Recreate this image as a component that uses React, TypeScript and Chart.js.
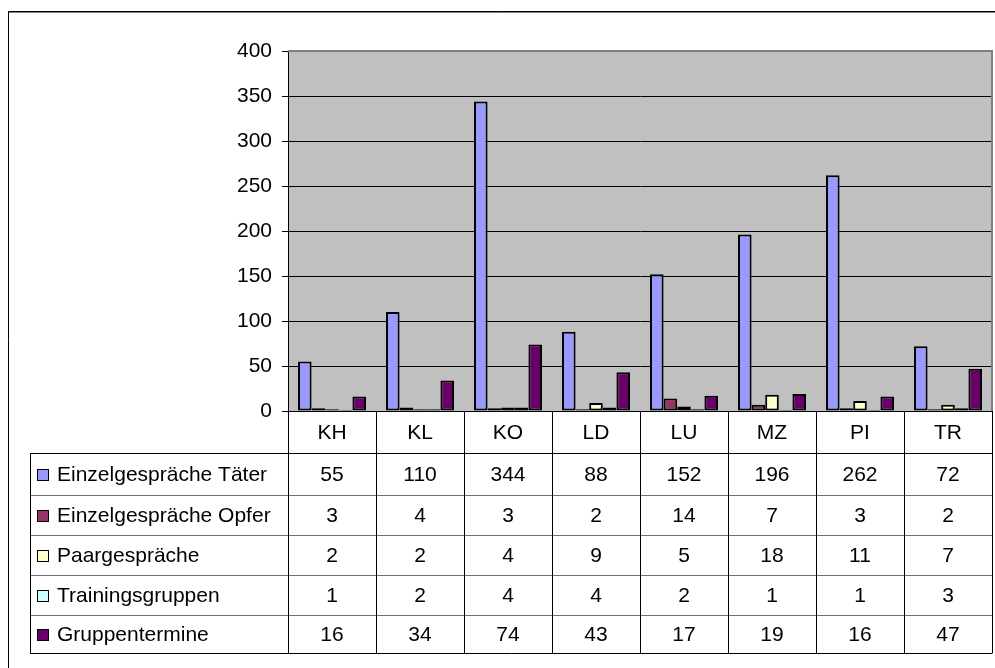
import React, { useEffect, useRef } from "react";
import { Chart, registerables } from "chart.js";

Chart.register(...registerables);

const categories = ["KH", "KL", "KO", "LD", "LU", "MZ", "PI", "TR"];
const seriesNames = [
  "Einzelgespräche Täter",
  "Einzelgespräche Opfer",
  "Paargespräche",
  "Trainingsgruppen",
  "Gruppentermine",
];
const taeter = [55, 110, 344, 88, 152, 196, 262, 72];
const opfer = [3, 4, 3, 2, 14, 7, 3, 2];
const paar = [2, 2, 4, 9, 5, 18, 11, 7];
const training = [1, 2, 4, 4, 2, 1, 1, 3];
const gruppen = [16, 34, 74, 43, 17, 19, 16, 47];
const seriesValues = [taeter, opfer, paar, training, gruppen];
const seriesColors = ["#9999FF", "#993366", "#FFFFCC", "#CCFFFF", "#660066"];
const yTicks = [0, 50, 100, 150, 200, 250, 300, 350, 400];

const FONT = '"Liberation Sans", Arial, sans-serif';
const FS = 21;

export default function App() {
  const ref = useRef<HTMLCanvasElement | null>(null);

  useEffect(() => {
    const canvas = ref.current;
    if (!canvas) return;

    const bgPlugin = {
      id: "plotBg",
      beforeDraw(chart: any) {
        const { ctx, chartArea } = chart;
        ctx.save();
        ctx.fillStyle = "#ffffff";
        ctx.fillRect(0, 0, chart.width, chart.height);
        ctx.fillStyle = "#C0C0C0";
        ctx.fillRect(chartArea.left, chartArea.top, chartArea.right - chartArea.left, chartArea.bottom - chartArea.top);
        ctx.restore();
      },
    };

    const tablePlugin = {
      id: "dataTable",
      afterDraw(chart: any) {
        const { ctx, chartArea } = chart;
        const xs = chart.scales.x;
        const left = chartArea.left;
        const right = chartArea.right;
        const top = chartArea.bottom;
        const rowLines = [453, 495, 535, 575, 615, 653];
        const tableLeft = 30;
        const bottom = rowLines[rowLines.length - 1];
        const n = categories.length;
        const colW = (right - left) / n;

        ctx.save();
        // plot frame top/right gray
        ctx.strokeStyle = "#808080";
        ctx.lineWidth = 2;
        ctx.beginPath();
        ctx.moveTo(left, chartArea.top);
        ctx.lineTo(right, chartArea.top);
        ctx.lineTo(right, chartArea.bottom);
        ctx.stroke();

        // horizontal inner lines
        ctx.lineWidth = 1;
        ctx.strokeStyle = "#707070";
        for (let i = 1; i < rowLines.length - 1; i++) {
          ctx.beginPath();
          ctx.moveTo(tableLeft, rowLines[i] + 0.5);
          ctx.lineTo(right, rowLines[i] + 0.5);
          ctx.stroke();
        }
        ctx.strokeStyle = "#000000";
        ctx.beginPath();
        ctx.moveTo(tableLeft, rowLines[0] + 0.5);
        ctx.lineTo(right, rowLines[0] + 0.5);
        ctx.moveTo(tableLeft, bottom + 0.5);
        ctx.lineTo(right + 0.5, bottom + 0.5);
        ctx.moveTo(tableLeft + 0.5, rowLines[0]);
        ctx.lineTo(tableLeft + 0.5, bottom);
        ctx.stroke();
        for (let i = 0; i <= n; i++) {
          const x = Math.round(left + colW * i) + 0.5;
          ctx.beginPath();
          ctx.moveTo(x, top);
          ctx.lineTo(x, bottom);
          ctx.stroke();
        }
        ctx.lineWidth = 1;
        ctx.beginPath();
        ctx.moveTo(left, top + 0.5);
        ctx.lineTo(right, top + 0.5);
        ctx.stroke();

        ctx.fillStyle = "#000000";
        ctx.font = `${FS}px ${FONT}`;
        ctx.textBaseline = "middle";
        ctx.textAlign = "center";
        categories.forEach((c, i) => {
          const x = xs.getPixelForValue(i);
          ctx.fillText(c, x, (top + rowLines[0]) / 2 + 1);
        });
        seriesValues.forEach((vals, r) => {
          const y = (rowLines[r] + rowLines[r + 1]) / 2 + 1;
          vals.forEach((v, i) => {
            const x = xs.getPixelForValue(i);
            ctx.fillText(String(v), x, y);
          });
        });
        ctx.textAlign = "left";
        seriesNames.forEach((name, r) => {
          const y = (rowLines[r] + rowLines[r + 1]) / 2;
          ctx.fillStyle = seriesColors[r];
          ctx.fillRect(37, Math.round(y - 5), 11, 11);
          ctx.strokeStyle = "#000000";
          ctx.lineWidth = 1;
          ctx.strokeRect(37.5, Math.round(y - 5) + 0.5, 11, 11);
          ctx.fillStyle = "#000000";
          ctx.fillText(name, 57, y + 1);
        });

        ctx.strokeStyle = "#000000";
        ctx.lineWidth = 1;
        ctx.beginPath();
        ctx.moveTo(8.5, chart.height);
        ctx.lineTo(8.5, 11.5);
        ctx.lineTo(chart.width, 11.5);
        ctx.stroke();
        ctx.strokeStyle = "#808080";
        ctx.beginPath();
        ctx.moveTo(9, 12.5);
        ctx.lineTo(chart.width, 12.5);
        ctx.stroke();
        ctx.restore();
      },
    };

    const chart = new Chart(canvas, {
      type: "bar",
      data: {
        labels: categories,
        datasets: seriesNames.map((name, i) => ({
          label: name,
          data: seriesValues[i],
          backgroundColor: seriesColors[i],
          borderColor: "#000000",
          borderWidth: 2,
          borderSkipped: false,
          categoryPercentage: 0.773,
          barPercentage: 1.0,
        })),
      },
      options: {
        responsive: false,
        animation: false,
        devicePixelRatio: 1,
        layout: { padding: { left: 0, top: 51, right: 3, bottom: 257 } },
        plugins: {
          legend: { display: false },
          tooltip: { enabled: false },
          title: { display: false },
        },
        scales: {
          x: {
            display: false,
            offset: true,
          },
          y: {
            min: 0,
            max: 400,
            afterBuildTicks(scale: any) {
              scale.ticks = yTicks.map((v) => ({ value: v }));
            },
            afterFit(scale: any) {
              scale.width = 288;
            },
            ticks: {
              color: "#000000",
              font: { family: FONT, size: FS },
              padding: 10,
            },
            grid: {
              color: "#000000",
              lineWidth: 1,
              tickLength: 6,
              drawTicks: true,
            },
            border: { display: true, color: "#000000", width: 1 },
          },
        },
      },
      plugins: [bgPlugin, tablePlugin],
    });

    return () => chart.destroy();
  }, []);

  return (
    <div style={{ position: "fixed", left: 0, top: 0, width: 995, height: 668, background: "#fff" }}>
      <canvas ref={ref} width={995} height={668} style={{ width: 995, height: 668, display: "block" }} />
    </div>
  );
}
